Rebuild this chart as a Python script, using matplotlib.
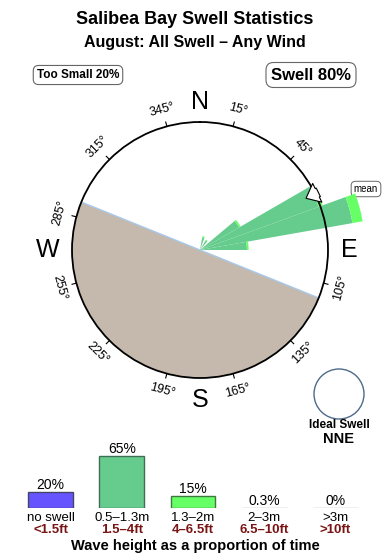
import numpy as np
import matplotlib
matplotlib.use("Agg")
import matplotlib.pyplot as plt
from matplotlib.patches import Circle, FancyArrowPatch

plt.rcParams['font.family'] = ['Liberation Sans', 'DejaVu Sans']

# ---------------- data ----------------
title = "Salibea Bay Swell Statistics"
subtitle = "August: All Swell \u2013 Any Wind"
too_small_pct = 20
swell_pct = 80

# rose: direction bins (deg, centre) and frequency (%) by height class
rose_dirs = [15, 35, 55, 65, 75, 85]
rose_mid = [3.0, 2.6, 10.6, 29.6, 36.3, 11.0]      # 0.5-1.3m
rose_high = [0.3, 0.2, 0.4, 1.0, 2.4, 0.4]        # 1.3-2m
rose_bin_width = 10
rose_rmax = 30.0                                    # % at compass ring
mean_dir = 64
land_from, land_to = 112, 292                       # shore-side sector
ideal_dir = "NNE"

deg_labels = [15, 45, 75, 105, 135, 165, 195, 225, 255, 285, 315, 345]

bar_cats = ["no swell", "0.5\u20131.3m", "1.3\u20132m", "2\u20133m", ">3m"]
bar_ft = ["<1.5ft", "1.5\u20134ft", "4\u20136.5ft", "6.5\u201310ft", ">10ft"]
bar_vals = [20, 65, 15, 0.3, 0]
bar_txt = ["20%", "65%", "15%", "0.3%", "0%"]
bar_colors = ["#6655ff", "#66cc8e", "#66ff66", "#ffffff", "#ffffff"]
bar_edges = ["#444466", "#3f6e55", "#3e7a3e", "#b9b1a4", "#b9b1a4"]

# ---------------- figure ----------------
W, H = 390, 560
fig = plt.figure(figsize=(W / 100, H / 100), dpi=100)

# overlay axes in pixel coords
ov = fig.add_axes([0, 0, 1, 1], zorder=0)
ov.set_xlim(0, W)
ov.set_ylim(H, 0)
ov.axis('off')
ov.patch.set_alpha(0)

ov.text(195, 20, title, ha='center', va='center', fontsize=13, fontweight='bold')
ov.text(195, 42, subtitle, ha='center', va='center', fontsize=11.5, fontweight='bold')

box = dict(boxstyle='round,pad=0.3,rounding_size=0.45', fc='white', ec='#666666', lw=0.8)
ov.text(78, 75, f"Too Small {too_small_pct}%", ha='center', va='center',
        fontsize=8.5, fontweight='bold', bbox=box)
ov.text(311, 75, f"Swell {swell_pct}%", ha='center', va='center',
        fontsize=12, fontweight='bold', bbox=dict(box, pad=0.25))

# ideal swell
ov.add_patch(Circle((339, 394), 25, fill=False, ec='#4d6a88', lw=1.0))
ov.text(339, 425, "Ideal Swell", ha='center', va='center', fontsize=8.5, fontweight='bold')
ov.text(339, 439, ideal_dir, ha='center', va='center', fontsize=10.5, fontweight='bold')

# ---------------- compass rose ----------------
cx, cy, R = 200, 250, 128
ax = fig.add_axes([(cx - R) / W, (H - cy - R) / H, 2 * R / W, 2 * R / H],
                  projection='polar', zorder=2)
ax.set_theta_zero_location('N')
ax.set_theta_direction(-1)
ax.set_ylim(0, rose_rmax)
ax.grid(False)
ax.set_xticks([])
ax.set_yticks([])
ax.spines['polar'].set_linewidth(1.3)
ax.spines['polar'].set_zorder(6)

# land sector
span = (land_to - land_from)
ax.bar(np.deg2rad(land_from + span / 2), rose_rmax, width=np.deg2rad(span), bottom=0,
       color='#c4b9ac', edgecolor='none', zorder=1)
for a in (land_from, land_to):
    ax.plot([np.deg2rad(a)] * 2, [0, rose_rmax], color='#a9c9ea', lw=1.0, zorder=2)

# degree labels & ticks
for d in deg_labels:
    t = np.deg2rad(d)
    ax.plot([t, t], [rose_rmax, rose_rmax * 1.035], color='black', lw=0.8,
            clip_on=False, zorder=3)
    rot = 180 - d if 90 < d < 270 else -d
    ax.text(t, rose_rmax * 1.135, f"{d}\u00b0", rotation=rot, rotation_mode='anchor',
            ha='center', va='center', fontsize=9, clip_on=False, zorder=3)

# rose wedges
th = np.deg2rad(rose_dirs)
wd = np.deg2rad(rose_bin_width)
ax.bar(th, rose_mid, width=wd, bottom=0, color='#66cc8e', edgecolor='none',
       clip_on=False, zorder=4)
ax.bar(th, rose_high, width=wd, bottom=rose_mid, color='#66ff66', edgecolor='none',
       clip_on=False, zorder=4)

# mean arrow
tm = np.deg2rad(mean_dir)
arr = FancyArrowPatch((tm, rose_rmax * 1.05), (tm, rose_rmax * 0.9),
                      arrowstyle='simple,head_length=0.6,head_width=1.0,tail_width=0.45',
                      mutation_scale=15, fc='white', ec='black', lw=0.8,
                      clip_on=False, zorder=7)
ax.add_patch(arr)

# cardinal letters
ov.text(200, 102, "N", ha='center', va='center', fontsize=18)
ov.text(200, 400, "S", ha='center', va='center', fontsize=18)
ov.text(48, 250, "W", ha='center', va='center', fontsize=18)
ov.text(349, 250, "E", ha='center', va='center', fontsize=18)

# mean label
ov.text(366, 189, "mean", ha='center', va='center', fontsize=7, zorder=8,
        bbox=dict(boxstyle='round,pad=0.28,rounding_size=0.45', fc='white', ec='#666666', lw=0.7))

# ---------------- bar chart ----------------
bx0, bx1 = 15, 371   # pixel extent
base_y, top_y = 508, 440
bax = fig.add_axes([bx0 / W, (H - base_y) / H, (bx1 - bx0) / W, (base_y - top_y) / H], zorder=1)
bax.axis('off')
bax.patch.set_alpha(0)
xs = np.arange(len(bar_vals))
bax.set_xlim(-0.5, len(bar_vals) - 0.5)
bax.set_ylim(0, 85)
bax.bar(xs, bar_vals, width=0.63, color=bar_colors, edgecolor=bar_edges, linewidth=1.0)
for i, (v, s) in enumerate(zip(bar_vals, bar_txt)):
    bax.text(xs[i], v + 3.8, s, ha='center', va='baseline', fontsize=10, clip_on=False)

for i in range(len(bar_vals)):
    px = 50.5 + i * 71.2
    ov.text(px, 518, bar_cats[i], ha='center', va='center', fontsize=9.5)
    ov.text(px, 530, bar_ft[i], ha='center', va='center', fontsize=9.5,
            fontweight='bold', color='#7a1414')
ov.text(195, 546, "Wave height as a proportion of time", ha='center', va='center',
        fontsize=10.5, fontweight='bold')

fig.savefig("out.png", dpi=100)
